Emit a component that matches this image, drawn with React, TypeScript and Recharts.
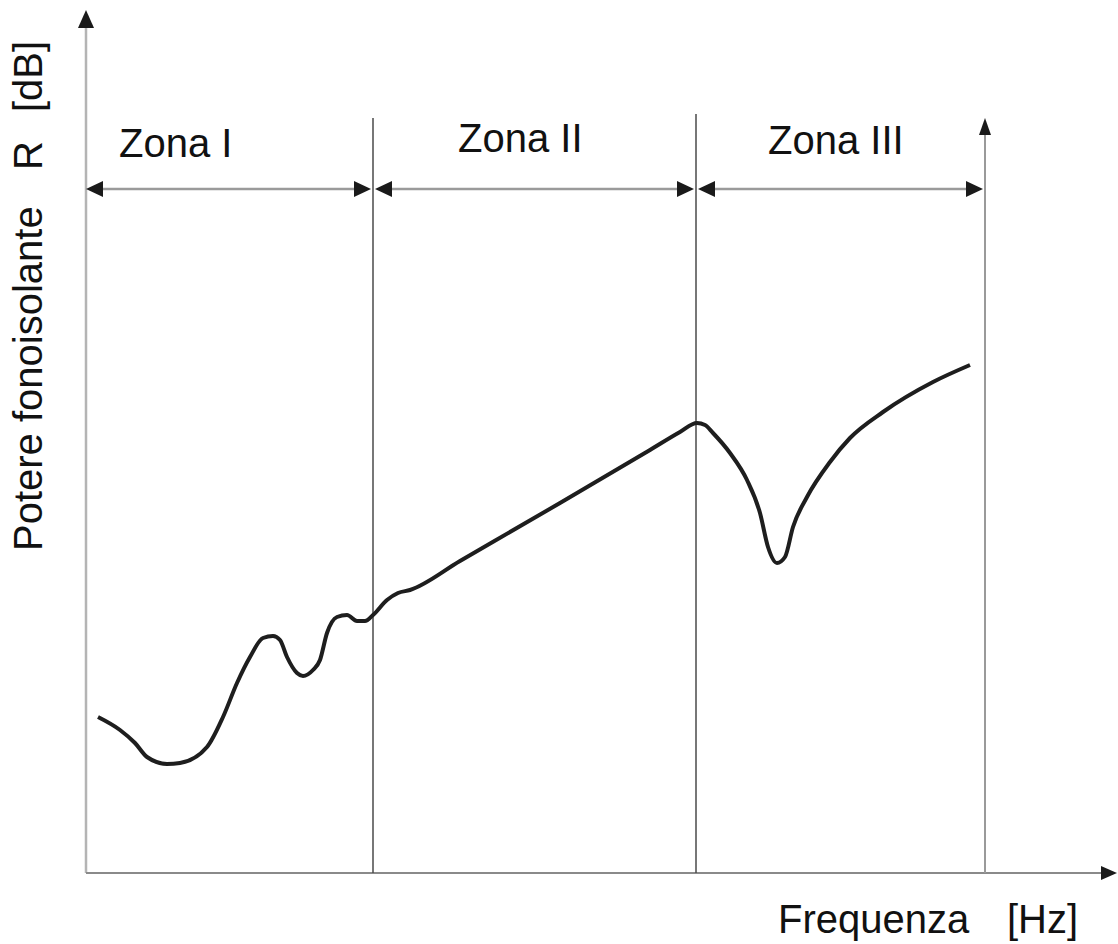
import { LineChart, Line, XAxis, YAxis, ReferenceLine } from 'recharts';

// frequency axis (arbitrary units, left to right) and sound reduction index R (arbitrary units, bottom to top)
const freq = [
  12, 34, 49, 61, 81, 94, 121, 137, 151, 164, 177, 187, 194, 201, 211, 217, 227, 234, 241, 251,
  261, 271, 279, 287, 301, 312, 324, 374, 474, 564, 594, 611, 619, 627, 644, 661, 674, 682, 691,
  699, 707, 721, 744, 764, 797, 847, 884,
];
const level = [
  156, 143, 130, 116, 109, 110, 126, 156, 190, 216, 235, 237, 233, 216, 200, 197, 203, 213, 240, 256,
  258, 252, 252, 258, 273, 280, 283, 312, 370, 423, 441, 450, 448, 440, 420, 393, 360, 326, 310,
  316, 346, 376, 411, 435, 461, 491, 508,
];

// zone boundaries on the frequency axis
const zoneEdges = [0, 287, 610, 899];
const zoneNames = ['Zona I', 'Zona II', 'Zona III'];
const zoneTop = 755;
const zoneArrowLevel = 684;

const data = freq.map((f, i) => ({ f, r: level[i] }));

const FONT = '"Liberation Sans", Arial, sans-serif';

function Arrow(props: any) {
  const { x1, y1, x2, y2, color, width, head, half, both } = props;
  const dx = x2 - x1;
  const dy = y2 - y1;
  const len = Math.sqrt(dx * dx + dy * dy) || 1;
  const ux = dx / len;
  const uy = dy / len;
  const px = -uy;
  const py = ux;
  const tri = (tx: number, ty: number, sx: number, sy: number) => {
    const bx = tx - sx * head;
    const by = ty - sy * head;
    return `${tx},${ty} ${bx + px * half},${by + py * half} ${bx - px * half},${by - py * half}`;
  };
  const sx1 = both ? x1 + ux * head * 0.8 : x1;
  const sy1 = both ? y1 + uy * head * 0.8 : y1;
  return (
    <g>
      <line
        x1={sx1}
        y1={sy1}
        x2={x2 - ux * head * 0.8}
        y2={y2 - uy * head * 0.8}
        stroke={color}
        strokeWidth={width}
      />
      <polygon points={tri(x2, y2, ux, uy)} fill="#1a1a1a" />
      {both && <polygon points={tri(x1, y1, -ux, -uy)} fill="#1a1a1a" />}
    </g>
  );
}

export default function App() {
  return (
    <div style={{ position: 'absolute', left: 0, top: 0, background: '#fff' }}>
      <LineChart
        width={1118}
        height={944}
        data={data}
        margin={{ top: 13, right: 2, bottom: 71, left: 86 }}
      >
        <XAxis type="number" dataKey="f" domain={[0, 1030]} hide />
        <YAxis type="number" domain={[0, 860]} hide />

        {/* axes */}
        <ReferenceLine
          ifOverflow="visible"
          segment={[{ x: 0, y: 0 }, { x: 0, y: 863 }]}
          shape={(p: any) => <Arrow {...p} color="#b4b4b4" width={2.5} head={18} half={8} />}
        />
        <ReferenceLine
          ifOverflow="visible"
          segment={[{ x: 0, y: 0 }, { x: 1031, y: 0 }]}
          shape={(p: any) => <Arrow {...p} color="#8a8a8a" width={2} head={16} half={7} />}
        />

        {/* zone boundaries */}
        <ReferenceLine
          ifOverflow="visible"
          segment={[{ x: zoneEdges[1], y: 0 }, { x: zoneEdges[1], y: zoneTop }]}
          stroke="#4a4a4a"
          strokeWidth={1.5}
        />
        <ReferenceLine
          ifOverflow="visible"
          segment={[{ x: zoneEdges[2], y: 0 }, { x: zoneEdges[2], y: zoneTop + 4 }]}
          stroke="#4a4a4a"
          strokeWidth={1.5}
        />
        <ReferenceLine
          ifOverflow="visible"
          segment={[{ x: zoneEdges[3], y: 0 }, { x: zoneEdges[3], y: zoneTop }]}
          shape={(p: any) => <Arrow {...p} color="#9a9a9a" width={2} head={17} half={6} />}
        />

        {/* zone spans */}
        {zoneNames.map((name, i) => (
          <ReferenceLine
            key={name}
            ifOverflow="visible"
            segment={[
              { x: zoneEdges[i] + (i === 0 ? 0 : 2), y: zoneArrowLevel },
              { x: zoneEdges[i + 1] - 2, y: zoneArrowLevel },
            ]}
            shape={(p: any) => <Arrow {...p} color="#9a9a9a" width={2.5} head={17} half={8} both />}
          />
        ))}

        <Line
          type="monotone"
          dataKey="r"
          stroke="#1e1e1e"
          strokeWidth={4}
          dot={false}
          isAnimationActive={false}
        />

        {/* texts */}
        <text x={119} y={157} fontFamily={FONT} fontSize={40} fill="#111">Zona I</text>
        <text x={458} y={152} fontFamily={FONT} fontSize={40} fill="#111">Zona II</text>
        <text x={768} y={154} fontFamily={FONT} fontSize={40} fill="#111">Zona III</text>
        <text x={778} y={933} fontFamily={FONT} fontSize={40} fill="#111">Frequenza</text>
        <text x={1007} y={933} fontFamily={FONT} fontSize={40} fill="#111">[Hz]</text>
        <text transform="translate(42,551) rotate(-90)" fontFamily={FONT} fontSize={40} fill="#111">
          Potere fonoisolante
        </text>
        <text transform="translate(42,170) rotate(-90)" fontFamily={FONT} fontSize={40} fill="#111">
          R
        </text>
        <text transform="translate(42,112) rotate(-90)" fontFamily={FONT} fontSize={40} fill="#111">
          [dB]
        </text>
      </LineChart>
    </div>
  );
}
